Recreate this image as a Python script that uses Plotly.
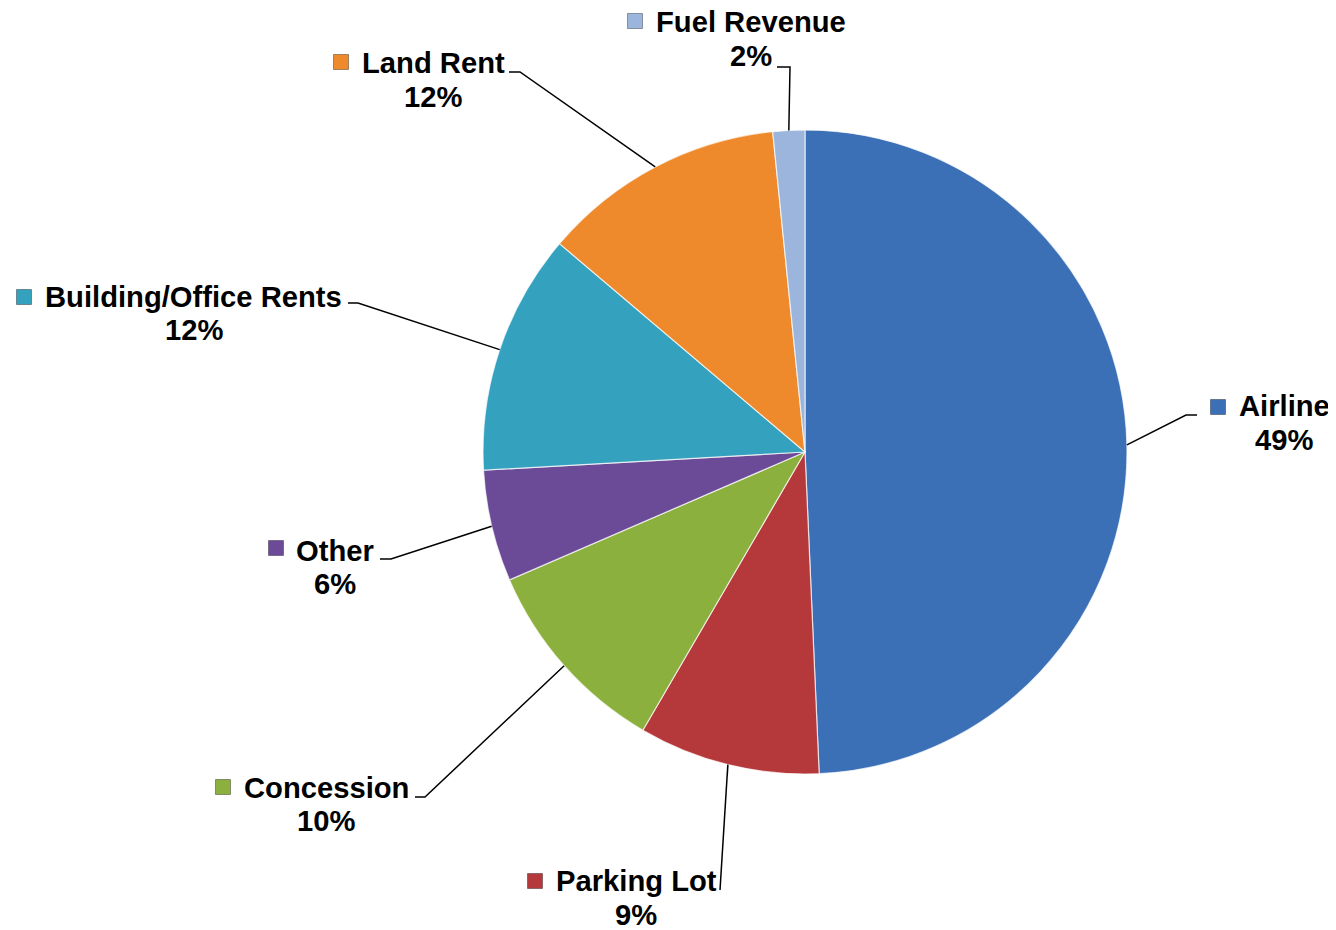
import math
import plotly.graph_objects as go

# ---- data ----
categories = ["Airline", "Parking Lot", "Concession", "Other",
              "Building/Office Rents", "Land Rent", "Fuel Revenue"]
values = [49.3, 9.1, 10.1, 5.6, 12.1, 12.2, 1.6]
colors = ["#3b70b6", "#b5393a", "#8bb03d", "#6b4b97", "#34a1bf", "#ee8a2b", "#9bb5dc"]

# ---- layout constants (pixels, in the page) ----
W, H = 1336, 930
OFF = 8  # default body margin of the page
PIE_CX, PIE_CY, PIE_R = 805, 452, 322
FONT = "Liberation Sans, Arial, sans-serif"
FSIZE = 29.2

# label block: (text centre x, line1 centre y, line2 centre y)
label_pos = [(1284, 406, 440), (636, 881, 915), (326, 788, 821), (335, 551, 584),
             (194, 297, 330), (433, 63, 97), (751, 22, 56)]
# key square centre
key_pos = [(1218, 407), (535, 881), (223, 787), (276, 548),
           (24, 297), (341, 62), (635, 21)]
# leader elbow and end points
leader_pts = [[(1186, 415), (1197, 415)], [(720, 890), (720, 890)],
              [(425, 797), (415, 797)], [(391, 559), (380, 559)],
              [(358, 303), (348, 303)], [(520, 72), (509, 72)],
              [(790, 67), (777, 67)]]


def px(x):
    return (x - OFF) / W


def py(y):
    return 1 - (y - OFF) / H


fig = go.Figure(go.Pie(
    labels=categories, values=values, sort=False, direction="clockwise",
    rotation=0, textinfo="none", hoverinfo="label+percent",
    marker=dict(colors=colors, line=dict(color="rgba(255,255,255,0.7)", width=1.2)),
    domain=dict(x=[px(PIE_CX - PIE_R), px(PIE_CX + PIE_R)],
                y=[py(PIE_CY + PIE_R), py(PIE_CY - PIE_R)]),
    showlegend=False,
))

total = sum(values)
cum = 0.0
annotations = []
shapes = []
for i, (cat, v) in enumerate(zip(categories, values)):
    mid = (cum + v / 2) / total * 2 * math.pi
    cum += v
    sx = PIE_CX + PIE_R * math.sin(mid)
    sy = PIE_CY - PIE_R * math.cos(mid)
    pts = [(sx, sy)] + leader_pts[i]
    path = "M " + " L ".join(f"{px(x)},{py(y)}" for x, y in pts)
    shapes.append(dict(type="path", xref="paper", yref="paper", path=path,
                       line=dict(color="black", width=1.5)))
    pct = round(v / total * 100)
    tx, l1, l2 = label_pos[i]
    annotations.append(dict(x=px(tx), y=py(l1), xref="paper", yref="paper",
                            text=f"<b>{cat}</b>", showarrow=False,
                            xanchor="center", yanchor="middle",
                            font=dict(family=FONT, size=FSIZE, color="black")))
    annotations.append(dict(x=px(tx), y=py(l2), xref="paper", yref="paper",
                            text=f"<b>{pct}%</b>", showarrow=False,
                            xanchor="center", yanchor="middle",
                            font=dict(family=FONT, size=FSIZE, color="black")))
    kx, ky = key_pos[i]
    shapes.append(dict(type="rect", xref="paper", yref="paper",
                       x0=px(kx - 7.5), x1=px(kx + 7.5), y0=py(ky + 7.5), y1=py(ky - 7.5),
                       fillcolor=colors[i], line=dict(color="rgba(0,0,0,0.35)", width=1)))

fig.update_layout(
    width=W, height=H,
    margin=dict(l=0, r=0, t=0, b=0),
    paper_bgcolor="white", plot_bgcolor="white",
    annotations=annotations, shapes=shapes,
)

fig.write_html("out.html")
